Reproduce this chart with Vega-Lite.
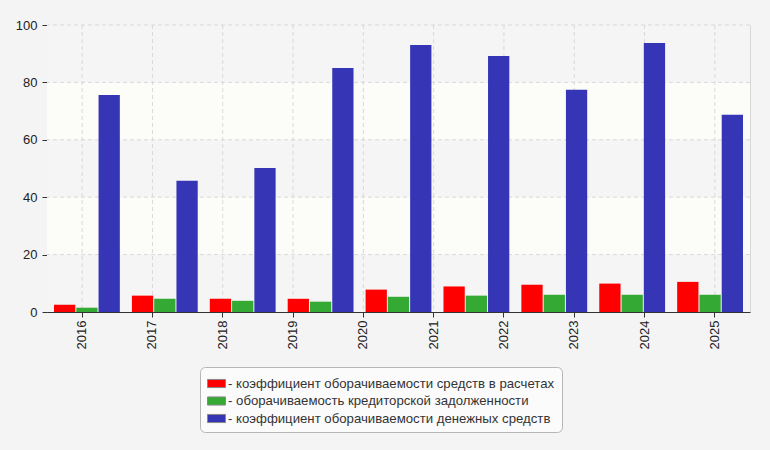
{
  "$schema": "https://vega.github.io/schema/vega-lite/v6.json",
  "width": 703,
  "height": 287,
  "autosize": {"type": "none"},
  "padding": {"left": 47, "top": 25, "right": 20, "bottom": 138},
  "background": "#f4f4f4",
  "config": {
    "font": "Liberation Sans",
    "view": {"stroke": "#d8d8d8", "fill": "#fafafa"},
    "axis": {
      "labelFont": "Liberation Sans",
      "labelFontSize": 13,
      "labelColor": "#222222",
      "domainColor": "#333333",
      "tickColor": "#333333",
      "grid": false
    }
  },
  "datasets": {
    "bands": [
      {"lo": 80, "hi": 100, "kind": "hatch"},
      {"lo": 60, "hi": 80, "kind": "plain"},
      {"lo": 40, "hi": 60, "kind": "hatch"},
      {"lo": 20, "hi": 40, "kind": "plain"},
      {"lo": 0, "hi": 20, "kind": "hatch"}
    ],
    "years": [
      {"year": "2016"}, {"year": "2017"}, {"year": "2018"}, {"year": "2019"}, {"year": "2020"},
      {"year": "2021"}, {"year": "2022"}, {"year": "2023"}, {"year": "2024"}, {"year": "2025"}
    ],
    "bars": [
      {"period": "p1", "series": "коэффициент оборачиваемости средств в расчетах", "value": 2.5},
      {"period": "p1", "series": "оборачиваемость кредиторской задолженности", "value": 1.5},
      {"period": "p1", "series": "коэффициент оборачиваемости денежных средств", "value": 75.6},
      {"period": "p2", "series": "коэффициент оборачиваемости средств в расчетах", "value": 5.7},
      {"period": "p2", "series": "оборачиваемость кредиторской задолженности", "value": 4.6},
      {"period": "p2", "series": "коэффициент оборачиваемости денежных средств", "value": 45.7},
      {"period": "p3", "series": "коэффициент оборачиваемости средств в расчетах", "value": 4.6},
      {"period": "p3", "series": "оборачиваемость кредиторской задолженности", "value": 3.9},
      {"period": "p3", "series": "коэффициент оборачиваемости денежных средств", "value": 50.2},
      {"period": "p4", "series": "коэффициент оборачиваемости средств в расчетах", "value": 4.6},
      {"period": "p4", "series": "оборачиваемость кредиторской задолженности", "value": 3.6},
      {"period": "p4", "series": "коэффициент оборачиваемости денежных средств", "value": 85.0},
      {"period": "p5", "series": "коэффициент оборачиваемости средств в расчетах", "value": 7.8},
      {"period": "p5", "series": "оборачиваемость кредиторской задолженности", "value": 5.3},
      {"period": "p5", "series": "коэффициент оборачиваемости денежных средств", "value": 93.0},
      {"period": "p6", "series": "коэффициент оборачиваемости средств в расчетах", "value": 8.9},
      {"period": "p6", "series": "оборачиваемость кредиторской задолженности", "value": 5.7},
      {"period": "p6", "series": "коэффициент оборачиваемости денежных средств", "value": 89.2},
      {"period": "p7", "series": "коэффициент оборачиваемости средств в расчетах", "value": 9.5},
      {"period": "p7", "series": "оборачиваемость кредиторской задолженности", "value": 6.0},
      {"period": "p7", "series": "коэффициент оборачиваемости денежных средств", "value": 77.4},
      {"period": "p8", "series": "коэффициент оборачиваемости средств в расчетах", "value": 9.9},
      {"period": "p8", "series": "оборачиваемость кредиторской задолженности", "value": 6.0},
      {"period": "p8", "series": "коэффициент оборачиваемости денежных средств", "value": 93.7},
      {"period": "p9", "series": "коэффициент оборачиваемости средств в расчетах", "value": 10.5},
      {"period": "p9", "series": "оборачиваемость кредиторской задолженности", "value": 6.0},
      {"period": "p9", "series": "коэффициент оборачиваемости денежных средств", "value": 68.7}
    ]
  },
  "layer": [
    {
      "data": {"name": "bands"},
      "mark": {"type": "rect"},
      "encoding": {
        "y": {
          "field": "lo",
          "type": "quantitative",
          "title": null,
          "scale": {"domain": [0, 100], "nice": false},
          "axis": {"values": [0, 20, 40, 60, 80, 100], "tickSize": 5, "labelPadding": 5}
        },
        "y2": {"field": "hi"},
        "fill": {
          "field": "kind",
          "type": "nominal",
          "scale": {"domain": ["hatch", "plain"], "range": ["#f5f5f5", "#fcfcf8"]},
          "legend": null
        }
      }
    },
    {
      "data": {"name": "bands"},
      "mark": {"type": "rule", "color": "#d9d9d9", "strokeDash": [4, 3], "strokeWidth": 1},
      "encoding": {
        "y": {"field": "hi", "type": "quantitative", "title": null}
      }
    },
    {
      "data": {"name": "years"},
      "mark": {"type": "rule", "color": "#d9d9d9", "strokeDash": [4, 3], "strokeWidth": 1},
      "encoding": {
        "x": {
          "field": "year",
          "type": "ordinal",
          "title": null,
          "scale": {"paddingInner": 0, "paddingOuter": 0},
          "axis": {"labelAngle": 270, "tickSize": 5, "labelPadding": 3, "bandPosition": 0.5}
        }
      }
    },
    {
      "data": {"name": "bars"},
      "mark": {"type": "bar"},
      "encoding": {
        "x": {
          "field": "period",
          "type": "ordinal",
          "scale": {"paddingInner": 0.155, "paddingOuter": 0.09},
          "axis": null
        },
        "xOffset": {
          "field": "series",
          "scale": {
            "domain": [
              "коэффициент оборачиваемости средств в расчетах",
              "оборачиваемость кредиторской задолженности",
              "коэффициент оборачиваемости денежных средств"
            ],
            "paddingInner": 0.045
          }
        },
        "y": {"field": "value", "type": "quantitative", "title": null},
        "color": {
          "field": "series",
          "type": "nominal",
          "scale": {
            "domain": [
              "коэффициент оборачиваемости средств в расчетах",
              "оборачиваемость кредиторской задолженности",
              "коэффициент оборачиваемости денежных средств"
            ],
            "range": ["#ff0000", "#34aa34", "#3535b5"]
          },
          "legend": {
            "title": null,
            "orient": "none",
            "legendX": 153,
            "legendY": 342,
            "direction": "vertical",
            "fillColor": "#fbfbfb",
            "strokeColor": "#b5b5b5",
            "cornerRadius": 5,
            "padding": 7,
            "rowPadding": 1.5,
            "symbolType": "M-1,-0.45H1V0.45H-1Z",
            "symbolSize": 324,
            "symbolStrokeColor": "#888888",
            "symbolStrokeWidth": 1,
            "labelFont": "Liberation Sans",
            "labelFontSize": 13.2,
            "labelColor": "#333333",
            "labelLimit": 400,
            "labelOffset": 2,
            "labelExpr": "'- ' + datum.label"
          }
        }
      }
    }
  ],
  "resolve": {"scale": {"x": "independent"}}
}
